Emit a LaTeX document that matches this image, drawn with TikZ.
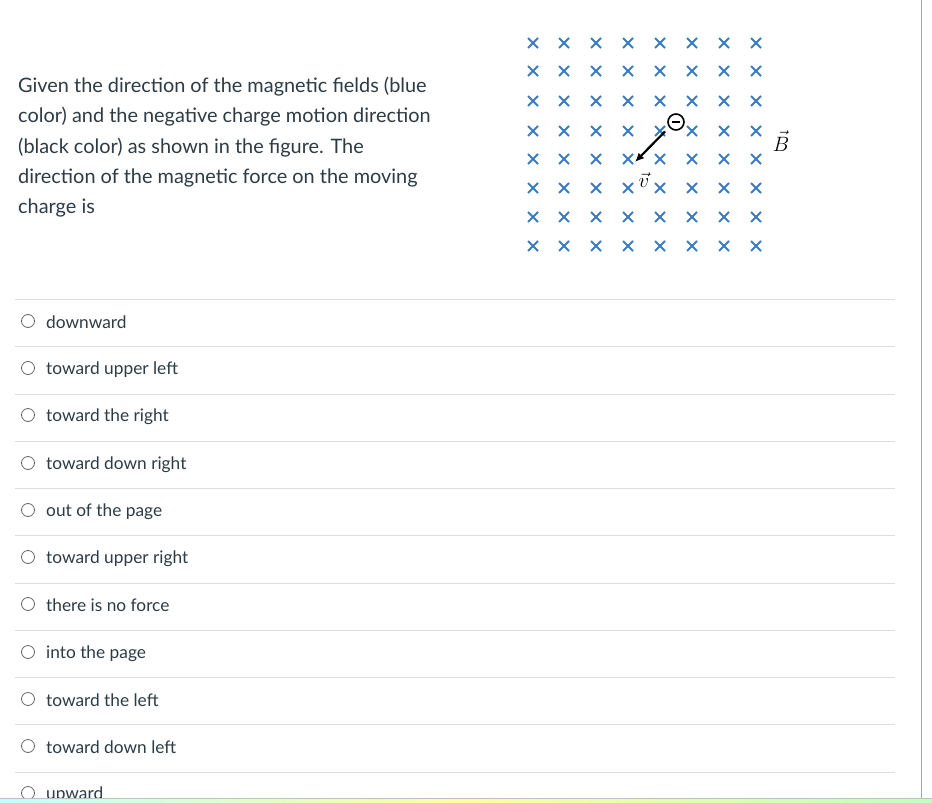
\documentclass[tikz,border=0pt]{standalone}
\usepackage{fontspec}
\setmainfont{Lato}
\usetikzlibrary{shapes.misc,arrows.meta}
\definecolor{fieldblue}{HTML}{3B7CC0}
\definecolor{inktext}{HTML}{2D3B45}
\definecolor{ruleline}{HTML}{DDDDDD}
\tikzset{
  bcross/.style={cross out,draw=fieldblue,line width=2pt,minimum size=8pt,inner sep=0pt},
  radio/.style={circle,draw=gray!80!black,line width=0.8pt,minimum size=13pt,inner sep=0pt},
  answer/.style={anchor=west,text=inktext,font=\fontsize{17.3}{20}\selectfont,inner sep=0pt},
  optline/.style={ruleline,line width=1pt}
}
\begin{document}
\begin{tikzpicture}[x=1pt,y=-1pt]
      \useasboundingbox (0,0) rectangle (932,803);
      \fill[white] (0,0) rectangle (932,803);
      % question
      \node[anchor=north west,align=left,text=inktext,inner sep=0pt,
            font=\fontsize{19.9}{30.2}\selectfont] (question) at (18,77)
        {Given the direction of the magnetic fields (blue\\
         color) and the negative charge motion direction\\
         (black color) as shown in the figure. The\\
         direction of the magnetic force on the moving\\
         charge is};
      % field into the page
      \foreach \i/\x in {1/533,2/564,3/596,4/628,5/660,6/692,7/724,8/756}
        \foreach \j/\y in {1/43,2/71,3/101,4/131,5/159,6/188,7/217,8/246}
          \node[bcross] (c\i\j) at (\x,\y) {};
      \node[circle,draw,fill=white,line width=1.6pt,minimum size=16pt,inner sep=0pt] (q) at (676,122) {};
      \draw[line width=2pt] (q.center) ++(-4,0) -- ++(8,0);
      \coordinate (tail) at (665,131.5);
      \coordinate (head) at (635,162);
      \draw[-{Latex[length=9pt,width=8pt]},line width=2.2pt] (tail) -- (head);
      \node[font=\fontsize{22}{26}\selectfont,inner sep=0pt] (v) at (644,180) {$\vec{v}$};
      \node[font=\fontsize{22}{26}\selectfont,inner sep=0pt] (B) at (781,141) {$\vec{B}$};
      % answers
      \draw[optline] (15,299) -- (895,299);
      \draw (28,321) node[radio] (r1){} (46,322.5) node[answer] (a1){downward};
      \draw[optline] (15,346) -- (895,346);
      \draw (28,368) node[radio] (r2){} (46,369.5) node[answer] (a2){toward upper left};
      \draw[optline] (15,394) -- (895,394);
      \draw (28,415) node[radio] (r3){} (46,416.5) node[answer] (a3){toward the right};
      \draw[optline] (15,441) -- (895,441);
      \draw (28,463) node[radio] (r4){} (46,464.5) node[answer] (a4){toward down right};
      \draw[optline] (15,488) -- (895,488);
      \draw (28,510) node[radio] (r5){} (46,511.5) node[answer] (a5){out of the page};
      \draw[optline] (15,535) -- (895,535);
      \draw (28,557) node[radio] (r6){} (46,558.5) node[answer] (a6){toward upper right};
      \draw[optline] (15,583) -- (895,583);
      \draw (28,604) node[radio] (r7){} (46,605.5) node[answer] (a7){there is no force};
      \draw[optline] (15,630) -- (895,630);
      \draw (28,652) node[radio] (r8){} (46,653.5) node[answer] (a8){into the page};
      \draw[optline] (15,677) -- (895,677);
      \draw (28,699) node[radio] (r9){} (46,700.5) node[answer] (a9){toward the left};
      \draw[optline] (15,724) -- (895,724);
      \draw (28,746) node[radio] (r10){} (46,747.5) node[answer] (a10){toward down left};
      \draw[optline] (15,772) -- (895,772);
      \draw (28,793) node[radio] (r11){} (46,794.5) node[answer] (a11){upward};
      % page edge and bottom strip
      \draw[gray!70,line width=1pt] (921,0) -- (921,803);
      \shade[left color=cyan!25!white,right color=green!25!white,middle color=yellow!40!white] (0,798) rectangle (932,803);
      \draw[gray!50,line width=0.6pt] (0,798) -- (932,798);
    \end{tikzpicture}
\end{document}
